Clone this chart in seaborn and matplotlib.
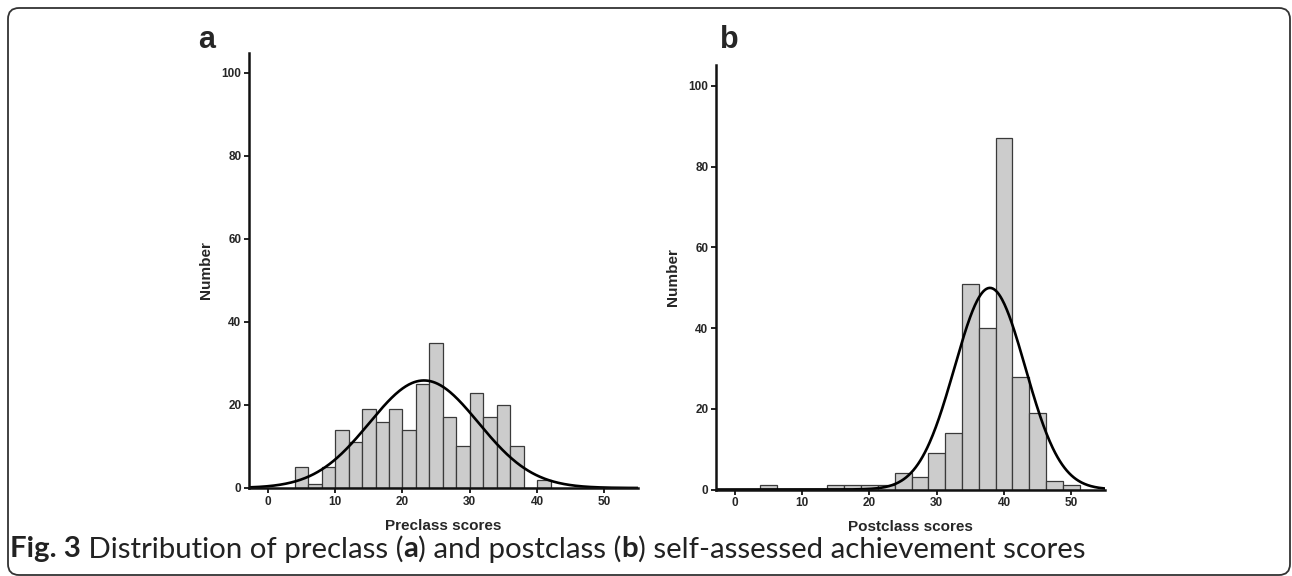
import numpy as np
import matplotlib
matplotlib.use('Agg')
import matplotlib.pyplot as plt
import seaborn as sns
from matplotlib import font_manager
from matplotlib.patches import FancyBboxPatch
from matplotlib.transforms import IdentityTransform

# panel a: preclass scores (bins of width 2, from 4 to 42)
pre_centers = [5, 7, 9, 11, 13, 15, 17, 19, 21, 23, 25, 27, 29, 31, 33, 35, 37, 39, 41]
pre_counts = [5, 1, 5, 14, 11, 19, 16, 19, 14, 25, 35, 17, 10, 23, 17, 20, 10, 0, 2]
pre_mean, pre_sd = 23.2, 8.1

# panel b: postclass scores (bins of width 2.5, from 3.75 to 51.25)
post_centers = [5, 7.5, 10, 12.5, 15, 17.5, 20, 22.5, 25, 27.5, 30, 32.5, 35, 37.5, 40, 42.5, 45, 47.5, 50]
post_counts = [1, 0, 0, 0, 1, 1, 1, 1, 4, 3, 9, 14, 51, 40, 87, 28, 19, 2, 1]
post_mean, post_sd = 37.9, 5.25

x_ticks = [0, 10, 20, 30, 40, 50]
y_ticks = [0, 20, 40, 60, 80, 100]

sns.set_style('ticks')
names = {f.name for f in font_manager.fontManager.ttflist}
narrow = 'Liberation Sans Narrow' if 'Liberation Sans Narrow' in names else 'Liberation Sans'
plt.rcParams['font.family'] = ['Liberation Sans', 'DejaVu Sans']

W, H = 1292, 576
fig = plt.figure(figsize=(W / 100, H / 100), dpi=100)

def px_axes(left, top, right, bottom):
    return fig.add_axes([left / W, 1 - bottom / H, (right - left) / W, (bottom - top) / H])

def panel(ax, centers, counts, bw, brange, mean, sd, xlabel, ytop):
    sns.histplot(x=centers, weights=counts, binwidth=bw, binrange=brange, ax=ax,
                 color='#cccccc', edgecolor='#3a3a3a', linewidth=0.9, alpha=1)
    n = sum(counts)
    xs = np.linspace(-2.8, 55, 500)
    ys = n * bw / (sd * np.sqrt(2 * np.pi)) * np.exp(-0.5 * ((xs - mean) / sd) ** 2)
    sns.lineplot(x=xs, y=ys, ax=ax, color='black', linewidth=1.9)
    ax.set_xlim(-2.8, 55)
    ax.set_ylim(0, ytop)
    ax.set_xticks(x_ticks)
    ax.set_yticks(y_ticks)
    for lab in ax.get_xticklabels() + ax.get_yticklabels():
        lab.set_family(narrow)
        lab.set_fontweight('bold')
        lab.set_fontsize(8.5)
    ax.tick_params(direction='out', length=3.5, width=1.4, pad=2, color='#222222')
    for s in ['top', 'right']:
        ax.spines[s].set_visible(False)
    for s in ['left', 'bottom']:
        ax.spines[s].set_linewidth(1.8)
        ax.spines[s].set_color('#111111')
    ax.set_xlabel(xlabel, fontsize=11, fontweight='bold', labelpad=8)
    ax.set_ylabel('Number', fontsize=11, fontweight='bold', labelpad=6)

ax_a = px_axes(249, 53, 638, 488)
panel(ax_a, pre_centers, pre_counts, 2, (4, 42), pre_mean, pre_sd, 'Preclass scores', 104.8)
ax_b = px_axes(716, 65, 1105, 489.5)
panel(ax_b, post_centers, post_counts, 2.5, (3.75, 51.25), post_mean, post_sd, 'Postclass scores', 105.2)

fig.text(207 / W, 1 - 40 / H, 'a', fontsize=22, fontweight='bold', ha='center', va='center')
fig.text(729 / W, 1 - 40 / H, 'b', fontsize=22, fontweight='bold', ha='center', va='center')

# rounded frame around the figure
frame = FancyBboxPatch((8, 1), W - 10, H - 9, boxstyle='round,pad=0,rounding_size=11',
                       transform=IdentityTransform(), fill=False, edgecolor='#333333', linewidth=1.3)
fig.add_artist(frame)

# caption with mixed bold pieces, sized to span the reference width
pieces = [('Fig. 3', 'bold'), (' Distribution of preclass (', 'normal'), ('a', 'bold'),
          (') and postclass (', 'normal'), ('b', 'bold'), (') self-assessed achievement scores', 'normal')]
cap_font = 'Lato'
fig.canvas.draw()
r = fig.canvas.get_renderer()
probe = 0
for s, w in pieces:
    t = fig.text(0, 0, s, fontsize=10, fontweight=w, family=cap_font, transform=IdentityTransform())
    probe += t.get_window_extent(r).width
    t.remove()
size = 10 * 1075 / probe
x = 10
for s, w in pieces:
    t = fig.text(x, H - 549, s, fontsize=size, fontweight=w, family=cap_font, color='#222222',
                 va='center', ha='left', transform=IdentityTransform())
    x += t.get_window_extent(r).width

fig.savefig('out.png', dpi=100)
